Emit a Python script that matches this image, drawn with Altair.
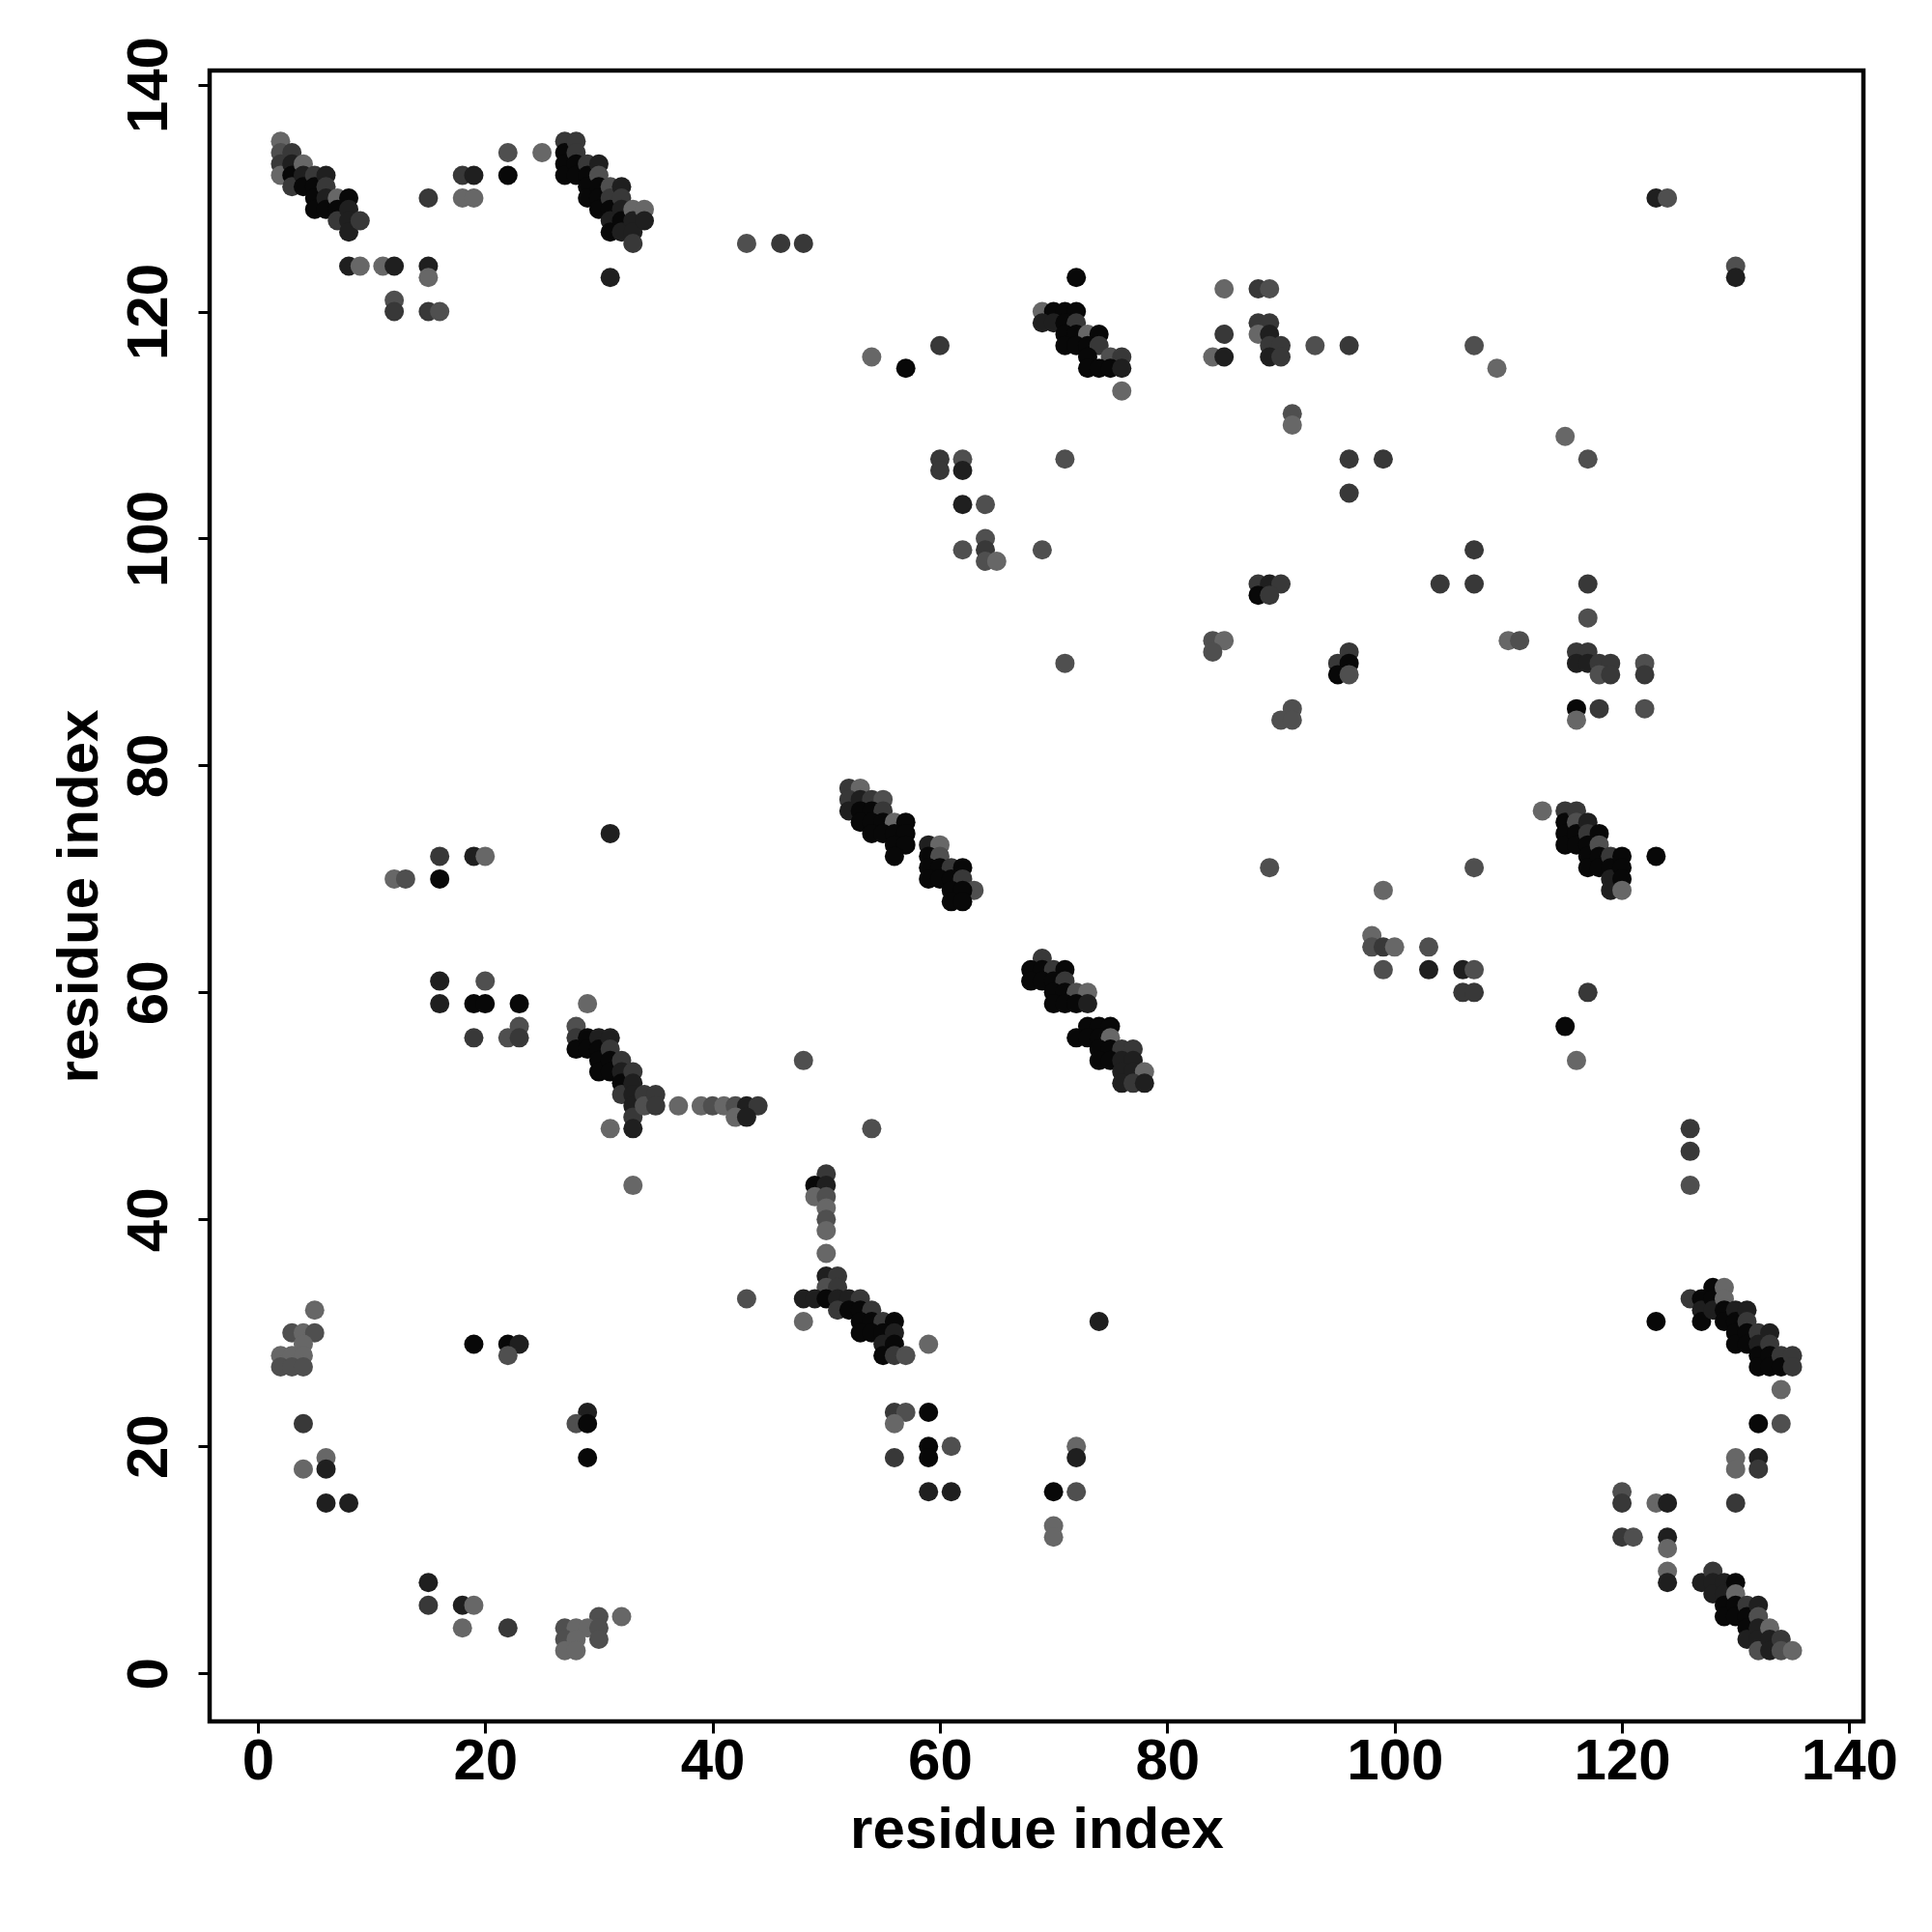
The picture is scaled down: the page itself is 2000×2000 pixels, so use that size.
import altair as alt
import pandas as pd

# shade levels: 0 = black ... 4 = light grey
pts = [
    # top-left strand
    (2,135,4),(2,134,3),(2,133,2),(2,132,4),
    (3,134,2),(3,133,1),(3,132,0),(3,131,2),
    (4,133,4),(4,132,1),(4,131,0),
    (5,132,2),(5,131,0),(5,130,0),(5,129,0),
    (6,132,1),(6,131,2),(6,130,1),(6,129,0),
    (7,130,4),(7,129,0),(7,128,2),
    (8,130,0),(8,129,1),(8,128,1),(8,127,1),
    (9,128,2),
    (8,124,1),(9,124,4),(11,124,4),(12,124,1),(15,124,1),(15,123,4),(12,121,3),
    (12,120,2),(15,120,2),(16,120,3),
    (18,132,2),(19,132,1),(22,132,0),(15,130,2),(18,130,4),(19,130,4),(22,134,3),(25,134,4),
    (27,135,2),(27,134,0),(27,133,0),(27,132,0),
    (28,135,2),(28,134,2),(28,133,0),(28,132,0),
    (29,133,2),(29,132,0),(29,131,0),(29,130,0),
    (30,133,1),(30,132,3),(30,131,0),(30,130,0),(30,129,0),
    (31,131,3),(31,130,2),(31,129,0),(31,128,1),(31,127,0),
    (32,131,1),(32,130,2),(32,129,1),(32,128,0),(32,127,1),
    (33,129,4),(33,128,1),(33,127,1),(33,126,2),
    (34,129,4),(34,128,1),
    (31,123,1),
    # upper middle
    (43,126,3),(46,126,2),(48,126,2),
    (72,123,0),
    (69,120,4),(70,120,0),(71,120,0),(72,120,0),
    (69,119,1),(70,119,1),(71,119,0),(72,119,2),
    (71,118,0),(72,118,0),(73,118,4),(74,118,0),
    (71,117,0),(72,117,0),(73,117,0),(74,117,2),
    (73,116,0),(75,116,3),(76,116,2),
    (73,115,0),(74,115,0),(75,115,0),(76,115,1),
    (76,113,4),
    (60,117,2),(54,116,4),(57,115,0),
    (60,107,2),(62,107,3),(60,106,2),(62,106,1),
    (71,107,3),
    (62,103,1),(64,103,3),
    (64,100,3),(62,99,3),(64,99,2),(64,98,3),(65,98,4),
    (69,99,3),
    # upper right
    (123,130,1),(124,130,3),
    (130,124,3),(130,123,1),
    (85,122,4),(88,122,2),(89,122,3),
    (88,119,2),(89,119,2),
    (85,118,2),(88,118,4),(89,118,1),
    (89,117,2),(90,117,2),
    (84,116,4),(85,116,1),(89,116,1),(90,116,2),
    (93,117,3),(96,117,2),(107,117,3),(109,115,4),
    (91,111,3),(91,110,4),
    (96,107,2),(99,107,2),(96,104,2),
    (115,109,4),(117,107,3),
    (107,99,2),
    (88,96,2),(89,96,1),(90,96,2),(88,95,0),(89,95,2),
    (104,96,2),(107,96,2),(117,96,2),
    (117,93,3),
    (84,91,3),(85,91,4),(84,90,3),
    (110,91,4),(111,91,3),
    (96,90,2),(95,89,2),(96,89,0),(95,88,0),(96,88,3),
    (116,90,2),(117,90,2),(116,89,1),(117,89,1),(118,89,2),(119,89,2),(118,88,3),(119,88,2),
    (122,89,3),(122,88,2),
    (91,85,3),(90,84,3),(91,84,3),
    (116,85,0),(118,85,2),(122,85,3),(116,84,4),
    (71,89,3),(89,71,3),
    # left middle
    (16,72,2),(19,72,1),(20,72,4),
    (12,70,4),(13,70,3),(16,70,0),
    (16,61,1),(20,61,3),
    (16,59,1),(19,59,0),(20,59,0),(23,59,0),
    (23,57,3),
    (19,56,2),(22,56,3),(23,56,2),
    (31,74,1),
    (29,59,4),(28,57,3),
    (28,56,2),(28,55,0),
    (29,56,0),(29,55,0),
    (30,56,1),(30,55,0),(30,54,0),(30,53,0),
    (31,56,1),(31,55,2),(31,54,0),(31,53,0),
    (32,54,2),(32,53,1),(32,52,0),(32,51,2),
    (33,53,2),(33,52,1),(33,51,1),(33,50,1),(33,49,2),(33,48,1),
    (34,51,2),(34,50,3),
    (35,51,2),(35,50,2),
    (31,48,4),
    (37,50,4),(39,50,4),(40,50,3),(41,50,4),(42,50,3),(43,50,1),(44,50,2),
    (42,49,4),(43,49,1),
    (33,43,4),
    (48,54,3),
    # central strands
    (52,78,2),(53,78,4),
    (52,77,2),(53,77,1),(54,77,2),(55,77,3),
    (52,76,1),(53,76,0),(54,76,0),(55,76,2),
    (53,75,0),(54,75,0),(55,75,0),(56,75,4),(57,75,0),
    (54,74,0),(55,74,0),(56,74,0),(57,74,0),
    (56,73,0),(57,73,0),
    (56,72,0),
    (59,73,1),(60,73,4),
    (59,72,0),(60,72,3),
    (59,71,0),(60,71,0),(61,71,2),(62,71,0),
    (59,70,0),(60,70,0),(61,70,0),(62,70,2),
    (63,69,3),
    (61,69,0),(62,69,0),
    (61,68,0),(62,68,0),
    (69,63,2),
    (68,62,0),(69,62,0),(70,62,2),(71,62,0),
    (68,61,0),(69,61,0),(70,61,0),(71,61,2),
    (70,60,0),(71,60,0),(72,60,3),(73,60,4),
    (70,59,0),(71,59,0),(72,59,0),(73,59,1),
    (73,57,0),(74,57,0),(75,57,0),
    (72,56,0),(73,56,0),(74,56,0),(75,56,4),
    (74,55,0),(75,55,0),(76,55,2),(77,55,2),
    (74,54,0),(75,54,0),(76,54,1),(77,54,1),
    (76,53,1),(77,53,1),(78,53,4),
    (76,52,1),(77,52,2),(78,52,1),
    # right middle
    (113,76,4),
    (115,76,2),(115,75,0),(115,74,0),(115,73,0),
    (116,76,2),(116,75,3),(116,74,0),(116,73,0),
    (117,75,1),(117,74,2),(117,73,0),(117,72,0),(117,71,0),
    (118,74,0),(118,73,3),(118,72,0),(118,71,0),
    (119,72,2),(119,71,0),(119,70,1),(119,69,1),
    (120,72,0),(120,71,0),(120,70,0),(120,69,4),
    (123,72,0),
    (107,71,3),(99,69,4),
    (98,65,4),(98,64,3),(99,64,2),(100,64,4),(103,64,3),
    (99,62,3),(103,62,1),(106,62,1),(107,62,3),
    (106,60,2),(107,60,2),
    (117,60,2),(115,57,0),(116,54,4),
    # lower middle
    (54,48,3),
    (50,44,2),(49,43,0),(50,43,1),(49,42,4),(50,42,3),(50,41,4),(50,40,3),(50,39,4),(50,37,4),
    (50,35,1),(51,35,2),(50,34,3),(51,34,2),
    (48,33,1),(49,33,1),(50,33,0),(51,33,1),(52,33,1),(53,33,2),
    (51,32,2),(52,32,0),(53,32,0),(54,32,2),
    (48,31,4),
    (53,31,0),(54,31,0),(55,31,2),(56,31,0),
    (53,30,0),(54,30,0),(55,30,0),(56,30,1),
    (55,29,1),(56,29,0),(59,29,4),
    (55,28,0),(56,28,2),(57,28,3),
    (56,23,2),(57,23,3),(59,23,0),(56,22,4),
    (59,20,0),(61,20,3),(56,19,2),(59,19,0),
    (59,16,1),(61,16,1),
    (74,31,1),
    (72,20,4),(72,19,1),(70,16,0),(72,16,3),
    (70,13,4),(70,12,4),
    (43,33,3),
    # lower right
    (126,48,2),(126,46,2),(126,43,3),
    (123,31,0),
    (126,33,2),
    (127,33,0),(127,32,1),(127,31,0),
    (128,34,0),(128,33,0),(128,32,1),
    (129,34,4),(129,33,4),(129,32,0),(129,31,0),
    (130,32,1),(130,31,0),(130,30,0),(130,29,0),
    (131,32,1),(131,31,2),(131,30,0),(131,29,0),
    (132,30,2),(132,29,1),(132,28,0),(132,27,0),
    (133,30,1),(133,29,2),(133,28,0),(133,27,0),
    (134,28,2),(134,27,0),
    (135,28,2),(135,27,2),
    (134,25,4),
    (132,22,0),(134,22,3),
    (130,19,4),(132,19,1),
    (130,18,4),(132,18,2),
    (130,15,2),
    (120,16,3),(120,15,2),(123,15,4),(124,15,1),
    (120,12,2),(121,12,3),(124,12,1),(124,11,4),(124,9,4),(124,8,1),
    (127,8,1),
    (128,9,2),(128,8,1),(128,7,1),
    (129,8,1),(129,7,1),(129,6,0),(129,5,0),
    (130,8,0),(130,7,4),(130,6,0),(130,5,0),
    (131,6,2),(131,5,0),(131,4,0),(131,3,1),
    (132,6,1),(132,5,3),(132,4,1),(132,3,1),(132,2,3),
    (133,4,4),(133,3,1),(133,2,1),
    (134,3,2),(134,2,3),
    (135,2,4),
    # lower left
    (5,32,4),
    (3,30,3),(4,30,4),(5,30,3),
    (4,29,4),
    (2,28,4),(3,28,4),(4,28,4),
    (2,27,3),(3,27,3),(4,27,3),
    (4,22,2),
    (4,18,4),(6,19,4),(6,18,1),
    (6,15,1),(8,15,1),
    (19,29,0),(22,29,0),(23,29,1),(22,28,3),
    (29,23,1),(28,22,3),(29,22,0),(29,19,0),
    (15,8,1),(15,6,2),(18,6,1),(19,6,4),
    (18,4,4),(22,4,2),
    (30,5,3),(32,5,4),
    (27,4,3),(28,4,4),(29,4,4),(30,4,3),
    (27,3,3),(28,3,4),(30,3,3),
    (27,2,4),(28,2,4),
]

res_i = [p[0] for p in pts]
res_j = [p[1] for p in pts]
shade = [p[2] for p in pts]
shade_levels = [0, 1, 2, 3, 4]
shade_colors = ["#080808", "#1f1f1f", "#383838", "#4f4f4f", "#676767"]
tick_values = [0, 20, 40, 60, 80, 100, 120, 140]

df = pd.DataFrame({"i": res_i, "j": res_j, "shade": shade})

FONT = "Liberation Sans"
W, H = 1712, 1709

chart = alt.Chart(df).mark_circle(size=400, opacity=1).encode(
    x=alt.X("i:Q",
            scale=alt.Scale(domain=[-4.24, 141.24], nice=False, zero=False),
            axis=alt.Axis(values=tick_values, title="residue index", grid=False,
                          domain=False, tickSize=12, tickWidth=3, tickColor="black",
                          labelFont=FONT, labelFontWeight="bold", labelFontSize=60,
                          labelColor="black", labelPadding=0, labelFlush=False,
                          labelOverlap=False,
                          titleFont=FONT, titleFontWeight="bold", titleFontSize=60,
                          titleColor="black", titleBaseline="alphabetic",
                          titleY=130, titleX=W / 2, titleAlign="center")),
    y=alt.Y("j:Q",
            scale=alt.Scale(domain=[-4.24, 141.24], nice=False, zero=False),
            axis=alt.Axis(values=tick_values, title="residue index", grid=False,
                          domain=False, tickSize=12, tickWidth=3, tickColor="black",
                          labelFont=FONT, labelFontWeight="bold", labelFontSize=60,
                          labelColor="black", labelPadding=33, labelFlush=False,
                          labelOverlap=False, labelAngle=270, labelAlign="center",
                          labelBaseline="alphabetic",
                          titleFont=FONT, titleFontWeight="bold", titleFontSize=60,
                          titleColor="black", titleAngle=270, titleBaseline="alphabetic",
                          titleX=-117, titleY=H / 2, titleAlign="center")),
    color=alt.Color("shade:O",
                    scale=alt.Scale(domain=shade_levels, range=shade_colors),
                    legend=None),
).properties(
    width=W, height=H,
    autosize=alt.AutoSizeParams(type="none"),
    padding={"left": 209, "top": 65, "right": 60, "bottom": 200},
    background="white",
).configure_view(stroke="black", strokeWidth=4.5)

chart.save("out.html", embed_options={"renderer": "svg", "actions": False})
